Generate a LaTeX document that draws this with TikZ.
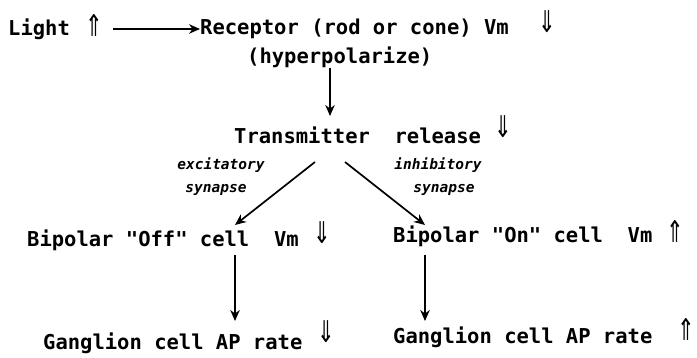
\documentclass[tikz,border=0pt]{standalone}
\usepackage{fontspec}
\newfontfamily\monob{DejaVu Sans Mono Bold}
\newfontfamily\monobi{DejaVu Sans Mono Bold Oblique}
\newfontfamily\symf{DejaVu Sans}
\usetikzlibrary{arrows.meta}
\begin{document}
\begin{tikzpicture}[x=1pt,y=-1pt,
  lbl/.style={inner sep=0pt,anchor=west,font=\monob\fontsize{20.5}{22}\selectfont},
  syn/.style={inner sep=0pt,font=\monobi\fontsize{14.5}{16}\selectfont},
  sym/.style={inner sep=0pt,font=\symf\fontsize{30}{32}\selectfont,xscale=0.7},
  arr/.style={-{Stealth[length=11pt,width=9.5pt]},line width=1.7pt}]
\useasboundingbox (0,0) rectangle (697,358);
\node[lbl] (light) at (8,29) {Light};
\node[sym] (up1) at (94,26) {⇑};
\node[lbl] (rec) at (200,29) {Receptor (rod or cone) Vm};
\node[sym] (dn1) at (547,22) {⇓};
\node[lbl] (hyp) at (247,57) {(hyperpolarize)};
\node[lbl] (tr) at (234,135) {Transmitter\ \ release};
\node[sym] (dn2) at (503,127) {⇓};
\node[syn] (ex1) at (221,165) {excitatory};
\node[syn] (ex2) at (216,190) {synapse};
\node[syn] (in1) at (438,165) {inhibitory};
\node[syn] (in2) at (444,190) {synapse};
\node[lbl] (boff) at (27,240) {Bipolar "Off" cell\ \ Vm};
\node[sym] (dn3) at (322,233) {⇓};
\node[lbl] (bon) at (393,236) {Bipolar "On" cell\ \ Vm};
\node[sym] (up2) at (675,232) {⇑};
\node[lbl] (goff) at (43,343) {Ganglion cell AP rate};
\node[sym] (dn4) at (326,332) {⇓};
\node[lbl] (gon) at (393,337) {Ganglion cell AP rate};
\node[sym] (up3) at (686,330) {⇑};
\coordinate (a1) at (113,29);
\coordinate (a2s) at (330,68);
\coordinate (a2e) at (330,116);
\coordinate (tl) at (315,162);
\coordinate (tle) at (235,225);
\coordinate (trr) at (345,162);
\coordinate (tre) at (425,225);
\coordinate (b1s) at (235,255);
\coordinate (b1e) at (235,321);
\coordinate (b2s) at (425,255);
\coordinate (b2e) at (425,321);
\draw[arr] (a1) -- (rec.west);
\draw[arr] (a2s) -- (a2e);
\draw[arr] (tl) -- (tle);
\draw[arr] (trr) -- (tre);
\draw[arr] (b1s) -- (b1e);
\draw[arr] (b2s) -- (b2e);
\end{tikzpicture}
\end{document}
